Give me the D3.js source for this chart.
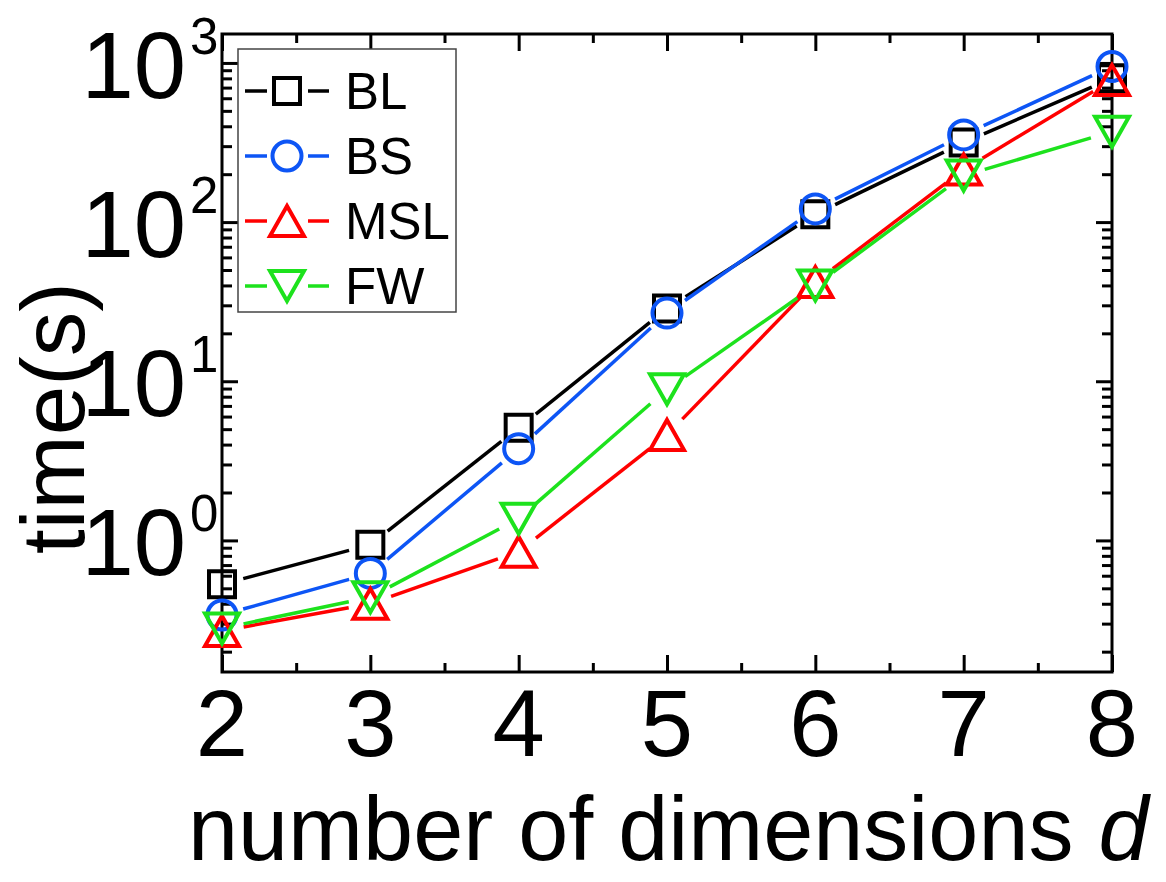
<!DOCTYPE html>
<html lang="en">
  <head>
    <meta charset="utf-8">
    <title>time vs number of dimensions</title>
    <script src="https://d3js.org/d3.v7.min.js"></script>
    <style>
      body { margin: 0; background: #fff; }
      text { font-family: "Liberation Sans", Arial, sans-serif; fill: #000; }
    </style>
  </head>
  <body>
  <div id="chart"></div>
  <script>

  // data
  var dims = [2, 3, 4, 5, 6, 7, 8];
  var bl  = [0.53, 0.94, 5.1, 28.6, 112, 316, 800];
  var bs  = [0.34, 0.62, 3.77, 26.8, 121, 353, 950];
  var msl = [0.27, 0.40, 0.85, 4.6, 42, 214, 780];
  var fw  = [0.28, 0.44, 1.37, 8.9, 40, 196, 370];

  var seriesNames = ["BL", "BS", "MSL", "FW"];
  var seriesColors = ["#000000", "#0d55f5", "#ff0000", "#1de21d"];
  var seriesShapes = ["square", "circle", "up", "down"];
  var seriesValues = [bl, bs, msl, fw];

  var yMajor = [1, 10, 100, 1000];
  var xMajor = [2, 3, 4, 5, 6, 7, 8];
  var xMinor = [2.5, 3.5, 4.5, 5.5, 6.5, 7.5];

  var w = 1166;
  var h = 882;
  var margin = {top: 34, right: 54, bottom: 210, left: 222};

  var svg = d3.select("#chart")
    .append("svg")
    .attr("width", w)
    .attr("height", h);

  var xScale = d3.scaleLinear()
    .domain([2, 8])
    .range([margin.left, w - margin.right]);

  var yScale = d3.scaleLog()
    .domain([0.149, 1520])
    .range([h - margin.bottom, margin.top]);

  // minor ticks for the log axis: 2..9 of every decade inside the domain
  var yMinor = [];
  [0.1, 1, 10, 100, 1000].forEach(function(dec) {
    for (var k = 2; k <= 9; k++) {
      var v = dec * k;
      if (v >= yScale.domain()[0] && v <= yScale.domain()[1]) yMinor.push(v);
    }
  });

  var x0 = xScale.range()[0], x1 = xScale.range()[1];
  var y0 = yScale.range()[0], y1 = yScale.range()[1];

  function tickAxis(axis, pos, values, size) {
    var g = svg.append("g")
      .attr("transform", pos)
      .call(axis.tickValues(values).tickSize(size).tickSizeOuter(0).tickFormat(""));
    g.select(".domain").remove();
    g.selectAll("line").attr("stroke", "#000").attr("stroke-width", 3);
    return g;
  }

  // ticks all pointing inward
  tickAxis(d3.axisBottom(xScale), `translate(0, ${y0})`, xMajor, -17);
  tickAxis(d3.axisBottom(xScale), `translate(0, ${y0})`, xMinor, -9);
  tickAxis(d3.axisTop(xScale), `translate(0, ${y1})`, xMajor, -17);
  tickAxis(d3.axisTop(xScale), `translate(0, ${y1})`, xMinor, -9);
  tickAxis(d3.axisLeft(yScale), `translate(${x0}, 0)`, yMajor, -16);
  tickAxis(d3.axisLeft(yScale), `translate(${x0}, 0)`, yMinor, -10);
  tickAxis(d3.axisRight(yScale), `translate(${x1}, 0)`, yMajor, -16);
  tickAxis(d3.axisRight(yScale), `translate(${x1}, 0)`, yMinor, -10);

  // frame
  svg.append("rect")
    .attr("x", x0)
    .attr("y", y1)
    .attr("width", x1 - x0)
    .attr("height", y0 - y1)
    .attr("fill", "none")
    .attr("stroke", "#000")
    .attr("stroke-width", 3);

  // x tick labels
  svg.append("g").selectAll("text")
    .data(xMajor)
    .enter().append("text")
    .attr("x", d => xScale(d))
    .attr("y", y0 + 84)
    .attr("text-anchor", "middle")
    .attr("font-size", 94)
    .text(d => d);

  // y tick labels, 10 with superscript exponent
  var ylab = svg.append("g").selectAll("g")
    .data(yMajor)
    .enter().append("g");
  ylab.append("text")
    .attr("x", 186)
    .attr("y", d => yScale(d) + 35)
    .attr("text-anchor", "end")
    .attr("font-size", 94)
    .text("10");
  ylab.append("text")
    .attr("x", 190)
    .attr("y", d => yScale(d) - 9)
    .attr("font-size", 51)
    .text(d => Math.round(Math.log10(d)));

  // axis titles
  svg.append("text")
    .attr("transform", "translate(84, 418) rotate(-90)")
    .attr("text-anchor", "middle")
    .attr("font-size", 89)
    .text("time(s)");

  var xt = svg.append("text")
    .attr("x", 188)
    .attr("y", 860)
    .attr("font-size", 90);
  xt.append("tspan").text("number of dimensions ");
  xt.append("tspan").attr("font-style", "italic").text("d");

  // marker path around (0,0)
  function markerPath(shape) {
    if (shape == "square") {
      return "M-13,-13H13V13H-13Z";
    } else if (shape == "circle") {
      return "M14.5,0A14.5,14.5 0 1,1 -14.5,0A14.5,14.5 0 1,1 14.5,0Z";
    } else if (shape == "up") {
      return "M0,-15L17,15H-17Z";
    } else {
      return "M0,15L17,-15H-17Z";
    }
  }

  var gap = 22;

  seriesValues.forEach(function(vals, si) {
    var color = seriesColors[si];
    var pts = vals.map(function(v, i) { return [xScale(dims[i]), yScale(v)]; });

    // line segments that stop short of the markers
    var segs = [];
    for (var i = 0; i < pts.length - 1; i++) {
      var a = pts[i], b = pts[i + 1];
      var dx = b[0] - a[0], dy = b[1] - a[1];
      var len = Math.sqrt(dx * dx + dy * dy);
      if (len <= 2 * gap) continue;
      var ux = dx / len, uy = dy / len;
      segs.push([a[0] + ux * gap, a[1] + uy * gap, b[0] - ux * gap, b[1] - uy * gap]);
    }
    svg.append("g").selectAll("line")
      .data(segs)
      .enter().append("line")
      .attr("x1", d => d[0]).attr("y1", d => d[1])
      .attr("x2", d => d[2]).attr("y2", d => d[3])
      .attr("stroke", color)
      .attr("stroke-width", 3.5);

    svg.append("g").selectAll("path")
      .data(pts)
      .enter().append("path")
      .attr("transform", d => `translate(${d[0]}, ${d[1]})`)
      .attr("d", markerPath(seriesShapes[si]))
      .attr("fill", "none")
      .attr("stroke", color)
      .attr("stroke-width", 4);
  });

  // legend
  var legend = svg.append("g");
  legend.append("rect")
    .attr("x", 238)
    .attr("y", 49)
    .attr("width", 218)
    .attr("height", 263)
    .attr("fill", "#fff")
    .attr("stroke", "#444")
    .attr("stroke-width", 1.5);

  var rows = legend.selectAll(".row")
    .data(seriesNames)
    .enter().append("g")
    .attr("class", "row")
    .attr("transform", (d, i) => `translate(0, ${91 + i * 65})`);

  rows.append("line")
    .attr("x1", 245).attr("x2", 267)
    .attr("stroke", (d, i) => seriesColors[i])
    .attr("stroke-width", 3.5);
  rows.append("line")
    .attr("x1", 308).attr("x2", 329)
    .attr("stroke", (d, i) => seriesColors[i])
    .attr("stroke-width", 3.5);
  rows.append("path")
    .attr("transform", "translate(287, 0)")
    .attr("d", (d, i) => markerPath(seriesShapes[i]))
    .attr("fill", "none")
    .attr("stroke", (d, i) => seriesColors[i])
    .attr("stroke-width", 4);
  rows.append("text")
    .attr("x", 345)
    .attr("y", 18)
    .attr("font-size", 51)
    .text(d => d);

  </script>
  </body>
</html>
